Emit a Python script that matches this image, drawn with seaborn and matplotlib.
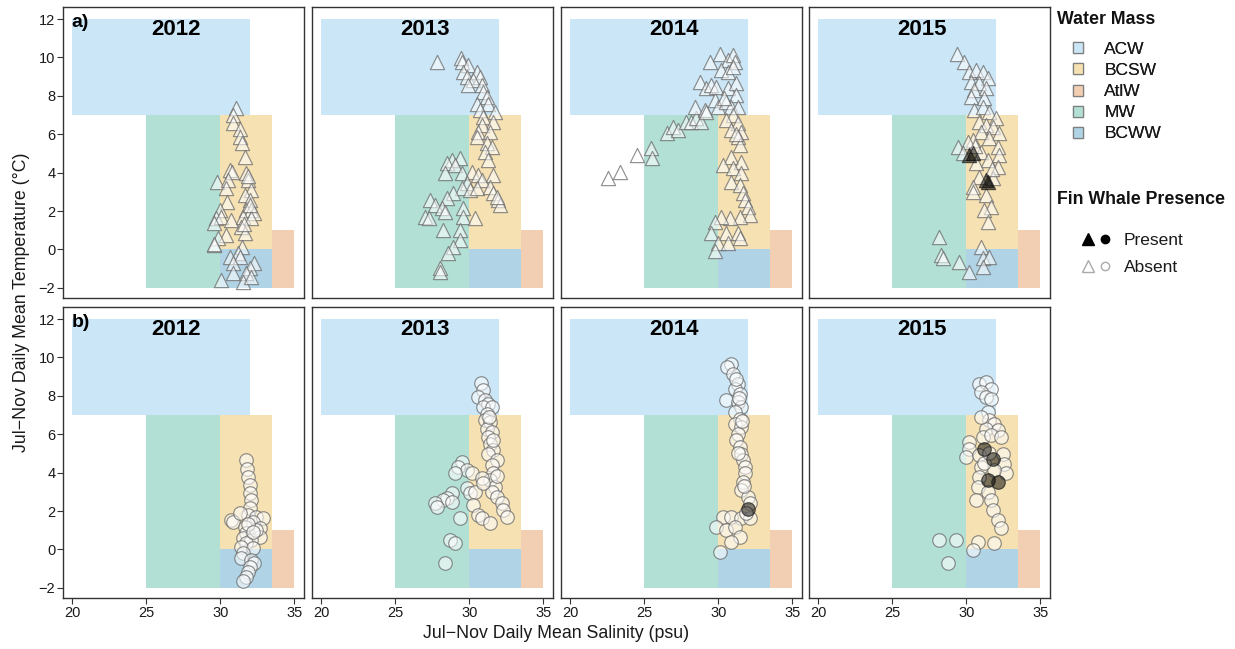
import numpy as np
import pandas as pd
import matplotlib
matplotlib.use("Agg")
import matplotlib.pyplot as plt
import seaborn as sns
from matplotlib.patches import Rectangle, Patch
from matplotlib.lines import Line2D
from matplotlib.legend_handler import HandlerTuple

sns.set_theme(style="white")
plt.rcParams['font.family'] = ['Liberation Sans', 'DejaVu Sans']

# ---------------- data ----------------
years = ["2012", "2013", "2014", "2015"]

wm_names = ["ACW", "BCSW", "AtlW", "MW", "BCWW"]
wm_colors = ["#CBE6F6", "#F6E1B2", "#F2CFB2", "#B2E0D5", "#B0D4E6"]
wm_sal_min = [20.0, 30.0, 33.5, 25.0, 30.0]
wm_sal_max = [32.0, 33.5, 35.0, 30.0, 33.5]
wm_t_min = [7.0, 0.0, -2.0, -2.0, -2.0]
wm_t_max = [12.0, 7.0, 1.0, 7.0, 0.0]

# Row a) triangles
tri_2012_sal = [31.08, 30.85, 30.85, 31.3, 31.3, 31.48, 31.64, 30.67, 30.8, 31.75, 31.86, 29.78, 30.5, 30.4,
                32.1, 31.64, 31.98, 30.45, 29.96, 31.75, 32.1, 32.3, 29.73, 30.07, 30.74, 31.5, 32.1, 29.6,
                31.4, 31.64, 30.4, 29.84, 29.55, 31.48, 31.19, 30.63, 31.3, 30.85, 32.3, 31.98, 30.85, 31.75,
                30.07, 31.5, 32.1, 31.9, 32.0, 31.6, 29.6]
tri_2012_temp = [7.35, 7.0, 6.57, 6.3, 5.87, 5.52, 4.83, 4.14, 4.05, 3.96, 3.6, 3.5, 3.6, 3.2,
                 3.1, 2.83, 2.57, 2.49, 2.05, 2.05, 2.05, 1.88, 1.62, 1.7, 1.53, 1.7, 1.62, 1.36,
                 1.18, 0.84, 0.75, 0.58, 0.23, 0.14, -0.2, -0.38, -0.38, -0.73, -0.73, -0.99, -1.25, -1.25,
                 -1.6, -1.68, -1.42, 3.8, 2.3, 1.3, 0.3]
tri_2012_pres = [0] * len(tri_2012_sal)

tri_2013_sal = [27.8, 29.42, 29.48, 29.93, 29.6, 30.5, 29.82, 30.72, 30.27, 29.93, 30.83, 30.94, 31.17, 30.5,
                31.28, 30.72, 31.73, 30.94, 31.62, 30.83, 30.6, 31.4, 30.5, 31.17, 31.5, 31.05, 31.28, 29.37,
                28.8, 28.47, 29.03, 28.36, 29.48, 30.16, 30.6, 30.83, 31.62, 29.82, 29.48, 30.04, 30.5, 31.4,
                31.62, 28.92, 28.47, 27.35, 27.7, 28.13, 28.36, 31.96, 32.07, 31.84, 29.6, 27.0, 27.24, 29.6,
                30.38, 28.25, 29.37, 29.37, 28.92, 28.58, 28.0, 28.0]
tri_2013_temp = [9.78, 9.95, 9.78, 9.6, 9.26, 9.26, 9.0, 9.0, 8.82, 8.56, 8.56, 8.22, 7.95, 7.6,
                 7.6, 7.26, 7.17, 6.91, 6.65, 6.48, 6.13, 6.13, 5.87, 5.52, 5.35, 5.09, 4.66, 4.74,
                 4.66, 4.48, 4.4, 3.96, 3.96, 4.05, 3.87, 3.6, 3.87, 3.44, 3.18, 3.1, 3.18, 3.27,
                 2.92, 2.92, 2.66, 2.57, 2.31, 2.14, 1.97, 2.57, 2.31, 2.75, 2.14, 1.7, 1.62, 1.7,
                 1.62, 1.0, 1.0, 0.49, 0.14, -0.2, -0.99, -1.16]
tri_2013_pres = [0] * len(tri_2013_sal)

tri_2014_sal = [22.52, 23.35, 24.52, 25.44, 25.53, 26.5, 26.94, 27.28, 27.84, 28.18, 28.52, 28.85, 28.4, 29.07,
                29.75, 29.98, 29.19, 28.74, 29.19, 29.53, 29.87, 30.65, 31.21, 29.42, 30.09, 30.65, 30.99, 31.1,
                30.2, 30.65, 31.21, 30.54, 30.88, 31.33, 31.0, 30.54, 31.33, 30.88, 31.55, 31.33, 31.44, 30.88,
                30.31, 31.55, 30.99, 31.55, 30.88, 31.44, 31.66, 31.78, 32.0, 32.11, 31.44, 30.76, 30.2, 29.75,
                30.54, 31.33, 29.53, 29.98, 30.65, 29.75, 31.44, 31.0, 30.4, 31.2]
tri_2014_temp = [3.7, 4.05, 4.92, 5.26, 4.74, 6.04, 6.39, 6.22, 6.65, 6.65, 6.83, 6.65, 7.43, 7.26,
                 7.78, 7.43, 7.17, 8.74, 8.39, 8.56, 8.48, 8.39, 8.65, 9.78, 10.2, 9.86, 10.12, 9.78,
                 9.34, 9.26, 8.04, 7.7, 7.43, 7.43, 7.0, 6.74, 6.57, 6.22, 6.13, 5.87, 5.44, 4.83,
                 4.4, 4.57, 4.22, 3.96, 3.53, 3.35, 2.92, 2.57, 2.23, 1.79, 1.7, 1.62, 1.7, 1.44,
                 0.84, 0.84, 0.84, 0.32, 0.32, -0.1, 0.58, 9.5, 7.9, 6.0]
tri_2014_pres = [0] * len(tri_2014_sal)

tri_2015_sal = [29.35, 29.86, 30.2, 30.65, 31.1, 31.44, 30.32, 30.88, 30.54, 31.33, 30.32, 31.22, 30.54, 31.1,
                31.56, 32.01, 30.88, 31.33, 30.99, 31.78, 32.23, 30.43, 31.56, 29.41, 30.09, 29.75, 30.43, 30.2,
                32.12, 32.23, 30.99, 31.44, 30.65, 32.12, 31.33, 31.44, 31.78, 30.88, 30.43, 30.43, 31.33, 31.67,
                31.22, 31.44, 28.17, 28.28, 28.4, 29.48, 30.2, 30.99, 31.1, 31.56, 31.1, 30.6, 31.7]
tri_2015_temp = [10.2, 9.78, 9.26, 9.34, 9.26, 8.91, 8.74, 8.65, 8.3, 8.39, 7.95, 7.87, 7.26, 7.43,
                 7.17, 6.83, 6.65, 6.48, 6.13, 6.39, 6.04, 5.7, 5.78, 5.35, 5.61, 5.0, 5.0, 4.92,
                 5.35, 4.92, 5.09, 4.66, 4.48, 4.31, 3.61, 3.53, 3.7, 3.79, 3.27, 3.01, 2.83, 2.23,
                 2.05, 1.44, 0.66, -0.29, -0.46, -0.64, -1.16, 0.14, -0.46, -0.38, -0.9, 5.4, 4.2]
tri_2015_pres = [0] * len(tri_2015_sal)
tri_2015_pres[26] = 1
tri_2015_pres[27] = 1
tri_2015_pres[34] = 1
tri_2015_pres[35] = 1

# Row b) circles
cir_2012_sal = [31.75, 31.8, 31.86, 31.98, 32.0, 32.1, 31.98, 31.86, 30.74, 30.85, 32.41, 32.9, 32.2, 31.64,
                32.65, 31.75, 32.65, 31.53, 32.1, 31.75, 31.42, 32.2, 31.53, 31.42, 32.1, 32.3, 31.98, 31.86,
                31.75, 31.53, 31.3, 32.4, 31.9, 32.2]
cir_2012_temp = [4.65, 4.21, 3.78, 3.35, 2.92, 2.57, 2.14, 1.79, 1.53, 1.45, 1.7, 1.62, 1.45, 1.19,
                 1.1, 0.84, 0.67, 0.58, 0.5, 0.32, 0.15, 0.06, -0.2, -0.46, -0.54, -0.72, -0.89, -1.15,
                 -1.41, -1.67, 1.88, 1.0, 1.3, 0.9]
cir_2012_pres = [0] * len(cir_2012_sal)

cir_2013_sal = [30.76, 30.9, 30.6, 31.06, 31.28, 30.94, 31.5, 31.17, 31.06, 31.4, 31.17, 31.5, 31.28, 31.4,
                31.62, 31.28, 31.84, 31.5, 31.62, 31.4, 31.73, 31.5, 31.84, 32.18, 32.3, 32.52, 29.48, 29.26,
                29.82, 29.03, 30.16, 30.83, 29.82, 30.04, 30.38, 30.94, 28.8, 28.47, 28.25, 28.8, 27.69, 27.8,
                30.27, 30.6, 30.83, 31.4, 29.37, 28.7, 29.03, 28.36, 31.3, 31.6, 31.9]
cir_2013_temp = [8.66, 8.28, 7.93, 7.76, 7.59, 7.42, 7.42, 7.07, 6.72, 6.64, 6.29, 6.12, 5.86, 5.51,
                 5.17, 4.99, 4.65, 4.39, 3.96, 3.61, 3.26, 3.0, 2.74, 2.4, 2.05, 1.71, 4.56, 4.3,
                 4.13, 3.96, 3.96, 3.7, 3.18, 2.92, 3.0, 3.44, 2.92, 2.66, 2.57, 2.48, 2.4, 2.23,
                 2.31, 1.79, 1.62, 1.36, 1.62, 0.5, 0.32, -0.72, 6.9, 5.7, 3.8]
cir_2013_pres = [0] * len(cir_2013_sal)

cir_2014_sal = [30.83, 30.6, 30.99, 31.33, 31.1, 31.44, 30.54, 31.33, 31.55, 31.1, 31.44, 31.1, 31.55, 31.33,
                31.21, 31.44, 31.55, 31.66, 31.78, 31.78, 31.66, 31.55, 32.0, 32.11, 32.0, 30.31, 30.88, 31.55,
                32.11, 29.87, 30.54, 31.1, 31.44, 30.88, 30.09, 31.2, 31.4, 31.6, 31.3, 31.7, 31.9]
cir_2014_temp = [9.66, 9.49, 9.14, 8.63, 8.37, 8.11, 7.76, 7.67, 7.42, 7.16, 6.81, 6.55, 6.38, 6.03,
                 5.69, 5.34, 4.99, 4.65, 4.3, 3.96, 3.52, 3.09, 2.74, 2.4, 2.09, 1.7, 1.7, 1.62,
                 1.62, 1.19, 1.01, 1.19, 0.67, 0.41, -0.11, 8.9, 7.9, 6.7, 5.0, 3.3, 1.9]
cir_2014_pres = [0] * len(cir_2014_sal)
cir_2014_pres[24] = 1

cir_2015_sal = [30.88, 31.33, 31.67, 30.99, 31.33, 31.67, 31.44, 31.56, 31.9, 31.33, 32.12, 31.1, 31.67, 32.34,
                30.2, 30.2, 29.98, 31.22, 31.78, 31.44, 32.12, 30.88, 32.46, 32.57, 30.99, 32.68, 31.9, 30.88,
                30.77, 31.44, 30.65, 31.67, 31.78, 32.12, 32.34, 28.17, 29.3, 30.77, 30.43, 31.9, 28.74, 31.2,
                31.5, 31.0]
cir_2015_temp = [8.63, 8.71, 8.37, 8.2, 7.93, 7.85, 7.16, 6.72, 6.55, 6.29, 6.2, 5.86, 5.95, 5.86,
                 5.6, 5.25, 4.82, 5.25, 4.73, 3.61, 3.53, 4.9, 4.99, 4.47, 4.3, 3.96, 4.13, 3.78,
                 3.26, 3.0, 2.57, 2.57, 2.05, 1.53, 1.1, 0.5, 0.5, 0.41, -0.03, 0.32, -0.72, 4.5,
                 5.0, 6.9]
cir_2015_pres = [0] * len(cir_2015_sal)
for i in (17, 18, 19, 20):
    cir_2015_pres[i] = 1

tri_sal = [tri_2012_sal, tri_2013_sal, tri_2014_sal, tri_2015_sal]
tri_temp = [tri_2012_temp, tri_2013_temp, tri_2014_temp, tri_2015_temp]
tri_pres = [tri_2012_pres, tri_2013_pres, tri_2014_pres, tri_2015_pres]
cir_sal = [cir_2012_sal, cir_2013_sal, cir_2014_sal, cir_2015_sal]
cir_temp = [cir_2012_temp, cir_2013_temp, cir_2014_temp, cir_2015_temp]
cir_pres = [cir_2012_pres, cir_2013_pres, cir_2014_pres, cir_2015_pres]

x_ticks = [20, 25, 30, 35]
y_ticks = [-2, 0, 2, 4, 6, 8, 10, 12]

# ---------------- figure ----------------
W, H = 1235, 649
fig = plt.figure(figsize=(W / 100, H / 100), dpi=100)

col_left = [63, 312, 561, 809]
pw = 241
row_top = [7, 307]
ph = 291

absent_face = (1, 1, 1, 0.55)
absent_edge = (0.42, 0.42, 0.42, 0.75)
present_face = (0, 0, 0, 0.5)
present_edge = (0.1, 0.1, 0.1, 0.7)

for r in range(2):
    for c in range(4):
        ax = fig.add_axes([col_left[c] / W, 1 - (row_top[r] + ph) / H, pw / W, ph / H])
        for i in range(len(wm_names)):
            ax.add_patch(Rectangle((wm_sal_min[i], wm_t_min[i]),
                                   wm_sal_max[i] - wm_sal_min[i], wm_t_max[i] - wm_t_min[i],
                                   facecolor=wm_colors[i], edgecolor='none', zorder=1))
        if r == 0:
            df = pd.DataFrame({"sal": tri_sal[c], "temp": tri_temp[c], "pres": tri_pres[c]})
            marker, size = '^', 105
        else:
            df = pd.DataFrame({"sal": cir_sal[c], "temp": cir_temp[c], "pres": cir_pres[c]})
            marker, size = 'o', 95
        ab = df[df.pres == 0]
        pr = df[df.pres == 1]
        sns.scatterplot(data=ab, x="sal", y="temp", ax=ax, marker=marker, s=size,
                        facecolor=absent_face, edgecolor=absent_edge, linewidth=0.85, zorder=3)
        if len(pr):
            sns.scatterplot(data=pr, x="sal", y="temp", ax=ax, marker=marker, s=size,
                            facecolor=present_face, edgecolor=present_edge, linewidth=0.85, zorder=4)
        ax.set_xlim(19.37, 35.65)
        ax.set_ylim(-2.53, 12.63)
        ax.set_xlabel("")
        ax.set_ylabel("")
        ax.set_xticks(x_ticks)
        ax.set_yticks(y_ticks)
        for sp in ax.spines.values():
            sp.set_visible(True)
            sp.set_color('#333333')
            sp.set_linewidth(1.0)
        ax.tick_params(axis='both', which='both', length=4, width=0.8, color='#333333',
                       labelsize=10.5, labelcolor='#1a1a1a', pad=1.5)
        ax.tick_params(axis='x', bottom=(r == 1), labelbottom=(r == 1))
        ax.tick_params(axis='y', left=(c == 0), labelleft=(c == 0))
        ax.grid(False)
        ax.set_facecolor('white')
        ax.text(27.0, 11.45, years[c], ha='center', va='center', fontsize=16,
                fontweight='bold', color='black', zorder=5)
        if c == 0:
            ax.text(0.035, 0.975, "a)" if r == 0 else "b)", transform=ax.transAxes,
                    ha='left', va='top', fontsize=14, fontweight='bold', color='black', zorder=5)

fig.text(22 / W, 1 - 302 / H, "Jul\u2212Nov Daily Mean Temperature (\u00b0C)", rotation=90,
         ha='center', va='center', fontsize=12.8, color='#1a1a1a')
fig.text(556 / W, 1 - 634 / H, "Jul\u2212Nov Daily Mean Salinity (psu)",
         ha='center', va='center', fontsize=12.8, color='#1a1a1a')

# legends
fig.text(1057 / W, 1 - 20 / H, "Water Mass", ha='left', va='center', fontsize=12.8,
         fontweight='bold', color='#111111')
wm_handles = [Patch(facecolor=col, edgecolor='#7f7f7f', linewidth=0.9) for col in wm_colors]
leg1 = fig.legend(wm_handles, wm_names, loc='upper left',
                  bbox_to_anchor=(1073 / W, 1 - 42 / H), frameon=False,
                  fontsize=12.5, handlelength=0.6, handleheight=0.6, labelspacing=0.35,
                  handletextpad=1.2, borderaxespad=0, borderpad=0, labelcolor='#1a1a1a')

fig.text(1057 / W, 1 - 200 / H, "Fin Whale Presence", ha='left', va='center', fontsize=12.8,
         fontweight='bold', color='#111111')
pres_handles = [
    (Line2D([], [], marker='^', color='none', markerfacecolor='black', markeredgecolor='black', markersize=9),
     Line2D([], [], marker='o', color='none', markerfacecolor='black', markeredgecolor='black', markersize=6)),
    (Line2D([], [], marker='^', color='none', markerfacecolor='white', markeredgecolor='#aaaaaa', markersize=9),
     Line2D([], [], marker='o', color='none', markerfacecolor='white', markeredgecolor='#aaaaaa', markersize=6)),
]
leg2 = fig.legend(pres_handles, ["Present", "Absent"], loc='upper left',
                  bbox_to_anchor=(1083 / W, 1 - 233 / H), frameon=False,
                  fontsize=12.5, handler_map={tuple: HandlerTuple(ndivide=None, pad=0.5)},
                  handlelength=1.55, labelspacing=0.7, handletextpad=0.8,
                  borderaxespad=0, borderpad=0, labelcolor='#1a1a1a')
fig.add_artist(leg1)

fig.savefig("out.png", dpi=100, facecolor='white')
